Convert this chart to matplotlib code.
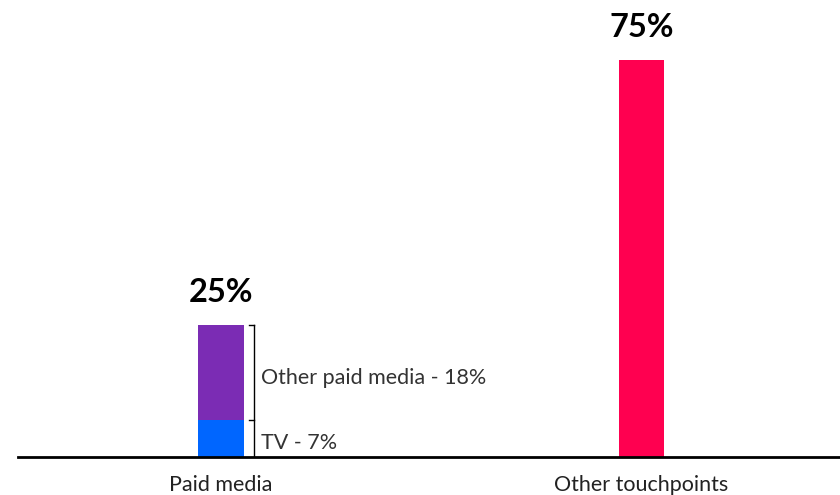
import matplotlib.pyplot as plt

plt.rcParams['font.family'] = ['Lato', 'DejaVu Sans']

categories = ["Paid media", "Other touchpoints"]
tv = [7, 0]
other_paid = [18, 0]
other_touch = [0, 75]
totals = [25, 75]
labels = ["25%", "75%"]
seg_labels = ["TV - 7%", "Other paid media - 18%"]

fig = plt.figure(figsize=(8.4, 4.95), dpi=100)
# axes placed in pixel terms: left 18, right 840, baseline at y=457 (from top)
ax = fig.add_axes([18 / 840, (495 - 457) / 495, 822 / 840, 423 / 495])

x = [0, 1]
w = 0.109
ax.bar(x[0], tv[0], width=w, color='#0066ff')
ax.bar(x[0], other_paid[0], bottom=tv[0], width=w, color='#7b2cb4')
ax.bar(x[1], other_touch[1], width=w, color='#ff0050')

for xi, t, lab in zip(x, totals, labels):
    ax.text(xi, t + 3.3, lab, ha='center', va='bottom', fontsize=23.5, fontweight='bold')

# bracket beside the stacked bar
bx = x[0] + w / 2 + 0.025
tick = 0.012
ax.plot([bx, bx], [0, totals[0]], color='black', lw=1)
ax.plot([bx - tick, bx], [totals[0], totals[0]], color='black', lw=1)
ax.plot([bx - tick, bx], [tv[0], tv[0]], color='black', lw=1)
ax.text(bx + 0.015, tv[0] / 2 - 0.5, seg_labels[0], va='center_baseline', ha='left',
        fontsize=15.5, color='#333333')
ax.text(bx + 0.015, tv[0] + other_paid[0] / 2 - 0.7, seg_labels[1], va='center_baseline', ha='left',
        fontsize=15.5, color='#333333')

ax.set_xlim(-0.4828, 1.472)
ax.set_ylim(0, 79.9)
ax.set_xticks(x)
ax.set_xticklabels(categories, fontsize=15.5, color='#222222')
ax.tick_params(axis='x', length=0, pad=13)
ax.set_yticks([])
for s in ['top', 'right', 'left']:
    ax.spines[s].set_visible(False)
ax.spines['bottom'].set_linewidth(2)

fig.savefig("out.png", dpi=100)
